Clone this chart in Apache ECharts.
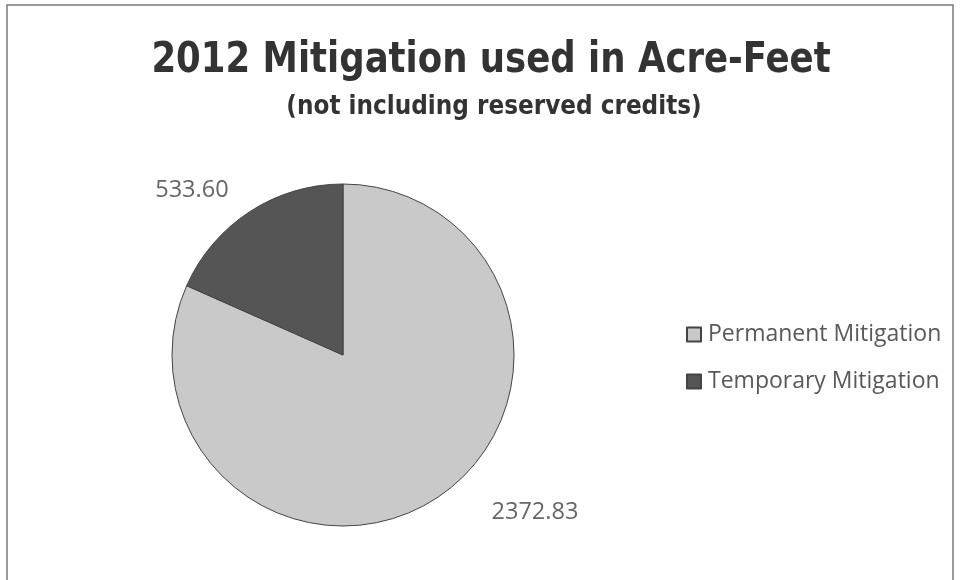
<!DOCTYPE html>
<html><head><meta charset="utf-8">
<script src="https://cdn.jsdelivr.net/npm/echarts@6/dist/echarts.min.js"></script>
<style>html,body{margin:0;padding:0;background:#fff}#c{width:962px;height:580px}</style>
</head><body><div id="c"></div>
<script>
const categories = ['Permanent Mitigation', 'Temporary Mitigation'];
const values = [2372.83, 533.60];
const colors = ['#c9c9c9', '#555555'];
const titleText = '2012 Mitigation used in Acre-Feet';
const subtitleText = '(not including reserved credits)';
const labelLines = [{length: 17, length2: 41}, {length: 26, length2: 2}];

const chart = echarts.init(document.getElementById('c'));
chart.setOption({
  backgroundColor: '#ffffff',
  animation: false,
  legend: {
    orient: 'vertical', left: 681, top: 318,
    itemWidth: 14, itemHeight: 14, itemGap: 24,
    data: categories,
    icon: 'rect',
    textStyle: {fontFamily: 'Open Sans, sans-serif', fontSize: 23, color: '#595959', padding: [0,0,0,2]}
  },
  graphic: [
    {type: 'rect', shape: {x: 7, y: 5, width: 946, height: 600}, style: {fill: 'none', stroke: '#7a7a7a', lineWidth: 1.5}, silent: true, z: -1},
    {type: 'text', x: 491, y: 61, scaleX: 0.918, style: {text: titleText, align: 'center', verticalAlign: 'middle',
      font: 'bold 43px "DejaVu Sans Condensed", sans-serif', fill: '#333333'}},
    {type: 'text', x: 494, y: 107, scaleX: 0.955, style: {text: subtitleText, align: 'center', verticalAlign: 'middle',
      font: 'bold 27px "DejaVu Sans Condensed", sans-serif', fill: '#333333'}}
  ],
  series: [{
    type: 'pie',
    center: [343, 355], radius: 171,
    startAngle: 90, clockwise: true,
    avoidLabelOverlap: false,
    itemStyle: {borderColor: '#444', borderWidth: 1},
    label: {show: true, position: 'outside', fontFamily: 'Open Sans, sans-serif', fontSize: 23.5, color: '#666666',
      formatter: p => p.value.toFixed(2)},
    labelLine: {show: false},
    data: categories.map((n, i) => ({name: n, value: values[i], itemStyle: {color: colors[i]}, labelLine: {show: false, length: labelLines[i].length, length2: labelLines[i].length2}}))
  }]
});
</script></body></html>
